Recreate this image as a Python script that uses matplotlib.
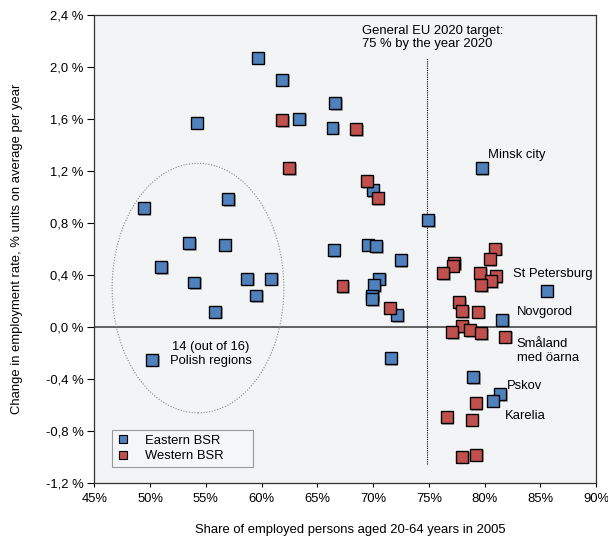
import matplotlib
matplotlib.use("Agg")

import matplotlib.pyplot as plt
import matplotlib.patheffects as pe
from matplotlib.patches import Ellipse
from matplotlib.lines import Line2D

plt.rcParams["font.family"] = ["Liberation Sans", "DejaVu Sans"]

# Eastern BSR regions: share employed 2005 (%), change in employment rate (% units/yr)
east_x = [59.64, 61.83, 54.17, 66.6, 63.37, 66.36, 69.97, 49.42, 56.98, 53.52,
          56.68, 51.0, 53.96, 58.69, 60.84, 59.52, 55.85, 50.17, 79.75, 74.94,
          66.48, 69.56, 70.3, 72.48, 70.55, 70.1, 69.9, 69.9, 72.15, 81.57,
          85.57, 71.59, 78.99, 81.39, 80.73]
east_y = [2.07, 1.90, 1.57, 1.72, 1.60, 1.53, 1.05, 0.91, 0.98, 0.645,
          0.63, 0.46, 0.34, 0.37, 0.37, 0.24, 0.115, -0.255, 1.22, 0.82,
          0.59, 0.63, 0.62, 0.51, 0.37, 0.32, 0.24, 0.21, 0.087, 0.054,
          0.276, -0.24, -0.39, -0.52, -0.57]

# Western BSR regions
west_x = [61.85, 68.46, 62.48, 69.44, 70.42, 67.26, 71.5, 80.93, 80.45, 77.26,
          77.14, 76.3, 79.62, 81.0, 80.6, 79.7, 77.7, 78.0, 79.45, 78.0,
          78.7, 77.07, 79.67, 81.84, 79.2, 76.6, 78.83, 78.0, 79.24]
west_y = [1.59, 1.52, 1.22, 1.12, 0.99, 0.31, 0.146, 0.60, 0.52, 0.49,
          0.47, 0.41, 0.41, 0.39, 0.35, 0.32, 0.19, 0.12, 0.115, 0.005,
          -0.025, -0.04, -0.05, -0.077, -0.59, -0.695, -0.716, -1.0, -0.985]

x_ticks = [45, 50, 55, 60, 65, 70, 75, 80, 85, 90]
x_tick_labels = ["45%", "50%", "55%", "60%", "65%", "70%", "75%", "80%", "85%", "90%"]
y_ticks = [-1.2, -0.8, -0.4, 0.0, 0.4, 0.8, 1.2, 1.6, 2.0, 2.4]
y_tick_labels = ["-1,2 %", "-0,8 %", "-0,4 %", "0,0 %", "0,4 %", "0,8 %",
                 "1,2 %", "1,6 %", "2,0 %", "2,4 %"]

labels = ["Minsk city", "St Petersburg", "Novgorod", "Småland\nmed öarna", "Pskov", "Karelia"]
label_x = [80.32, 82.56, 82.89, 82.89, 82.02, 81.81]
label_y = [1.318, 0.404, 0.111, -0.186, -0.453, -0.686]

BLUE = "#4F81BD"
RED = "#C0504D"
FS = 9.4

fig = plt.figure(figsize=(6.08, 5.37), dpi=100)
ax = fig.add_axes([0.1551, 0.1011, 0.8253, 0.8715])
ax.set_facecolor("#F3F4F6")

ax.set_xlim(45, 90)
ax.set_ylim(-1.2, 2.4)

ax.axhline(0, color="#555555", lw=1.3, zorder=1)
ax.plot([74.85, 74.85], [-1.054, 2.067], color="black", lw=0.8, ls=(0, (1, 1)), zorder=1)

ax.add_patch(Ellipse((54.3, 0.297), 15.4, 1.92, fill=False, ec="#888888",
                     lw=0.8, ls=(0, (1, 1.5)), zorder=1))

shadow = [pe.SimplePatchShadow(offset=(1.2, -1.2), alpha=0.35), pe.Normal()]
ax.plot(east_x, east_y, ls="none", marker="s", ms=8.6, mfc=BLUE, mec="black",
        mew=1.0, zorder=3, path_effects=shadow)
ax.plot(west_x, west_y, ls="none", marker="s", ms=8.6, mfc=RED, mec="black",
        mew=1.0, zorder=3, path_effects=shadow)

for t, x, y in zip(labels, label_x, label_y):
    ax.text(x, y, t, fontsize=FS, va="center", ha="left", linespacing=1.15)

ax.text(55.46, -0.21, "14 (out of 16)\nPolish regions", fontsize=FS,
        ha="center", va="center", linespacing=1.15)
ax.text(68.97, 2.223, "General EU 2020 target:\n75 % by the year 2020", fontsize=FS,
        ha="left", va="center", linespacing=1.15)

ax.set_xticks(x_ticks)
ax.set_xticklabels(x_tick_labels, fontsize=FS)
ax.set_yticks(y_ticks)
ax.set_yticklabels(y_tick_labels, fontsize=FS)
ax.tick_params(direction="out", width=0.8, colors="black")
ax.tick_params(axis="x", length=3.2, pad=4)
ax.tick_params(axis="y", length=4.8, pad=3)
for s in ax.spines.values():
    s.set_color("#333333")
    s.set_linewidth(0.9)

ax.set_ylabel("Change in employment rate, % units on average per year", fontsize=FS)
ax.yaxis.set_label_coords(-0.143, 0.5)
ax.set_xlabel("Share of employed persons aged 20-64 years in 2005", fontsize=FS)
ax.xaxis.set_label_coords(0.51, -0.089)

handles = [Line2D([], [], ls="none", marker="s", ms=5.5, mfc=BLUE, mec="black", mew=0.8),
           Line2D([], [], ls="none", marker="s", ms=5.5, mfc=RED, mec="black", mew=0.8)]
leg = ax.legend(handles, ["Eastern BSR", "Western BSR"], loc="lower left",
                bbox_to_anchor=(0.035, 0.034, 0.282, 0.075), mode="expand",
                borderaxespad=0, fontsize=FS,
                fancybox=False, edgecolor="#999999", facecolor="#F5F6F8",
                framealpha=1, handlelength=1.0, handletextpad=1.2,
                borderpad=0.35, labelspacing=0.25)
leg.get_frame().set_linewidth(0.8)

fig.savefig("out.png", dpi=100)
